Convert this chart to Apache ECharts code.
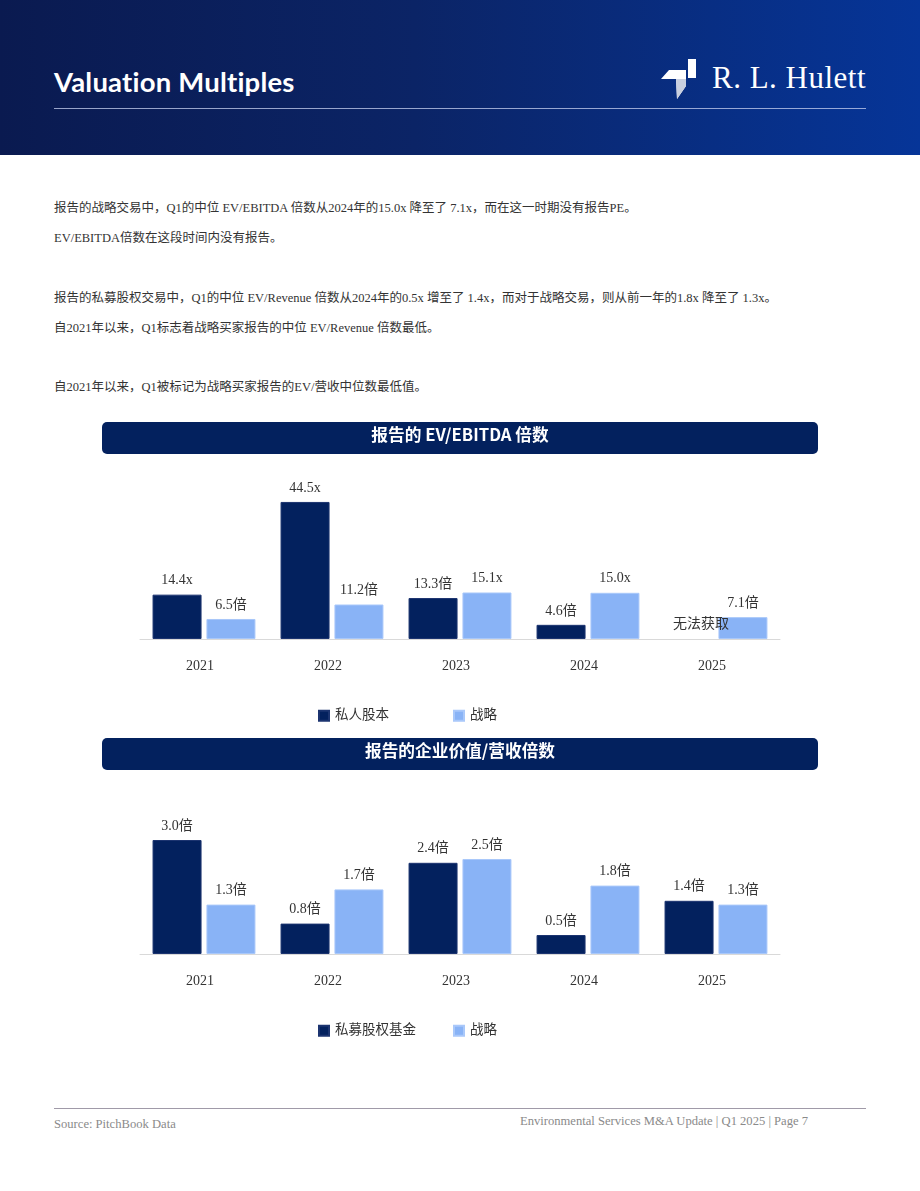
<!DOCTYPE html>
<html><head><meta charset="utf-8">
<script src="https://cdn.jsdelivr.net/npm/echarts@6/dist/echarts.min.js"></script>
<style>
html,body{margin:0;padding:0;background:#fff;width:920px;height:1191px;overflow:hidden;position:relative;}
.abs{position:absolute;}
#header{left:0;top:0;width:920px;height:155px;background:linear-gradient(90deg,#0a1a50 0%,#0b2466 45%,#063598 100%);}
#htitle{left:54px;top:65px;color:#fff;font:bold 27.5px Lato,"Open Sans",sans-serif;letter-spacing:0.2px;}
#hline{left:54px;top:108px;width:812px;height:1px;background:rgba(200,210,240,0.75);}
#logo{left:712px;top:60px;color:#fff;font:31px "Liberation Serif","DejaVu Serif",serif;letter-spacing:0.5px;}
.p{left:54px;font:12.5px "Liberation Serif","Noto Sans CJK SC",serif;color:#333;white-space:nowrap;}
.tbar{left:102px;width:716px;height:32px;background:#03215e;border-radius:5px;color:#fff;text-align:center;line-height:32px;font:bold 16.7px "Noto Sans CJK SC","Noto Sans",sans-serif;}
#fline{left:54px;top:1108px;width:812px;height:1px;background:#a09aa8;}
.f{font:12.6px "Liberation Serif","DejaVu Serif",serif;color:#8a8a8a;white-space:nowrap;}
#chart{left:0;top:410px;width:920px;height:650px;}
</style></head>
<body>
<div id="header" class="abs"></div>
<div id="htitle" class="abs">Valuation Multiples</div>
<div id="hline" class="abs"></div>
<svg class="abs" style="left:655px;top:56px" width="46" height="46" viewBox="655 56 46 46">
  <polygon points="688,59 696,59 696,78 688,78" fill="#fff"/>
  <polygon points="661,79 669,70 686,70 686,86 677,99 676,79" fill="#fff"/>
  <polygon points="676,79 686,79 686,86 677,99" fill="#c9cfdf"/>
</svg>
<div id="logo" class="abs">R. L. Hulett</div>

<div class="abs p" style="top:197px">报告的战略交易中，Q1的中位 EV/EBITDA 倍数从2024年的15.0x 降至了 7.1x，而在这一时期没有报告PE。</div>
<div class="abs p" style="top:227px">EV/EBITDA倍数在这段时间内没有报告。</div>
<div class="abs p" style="top:287px">报告的私募股权交易中，Q1的中位 EV/Revenue 倍数从2024年的0.5x 增至了 1.4x，而对于战略交易，则从前一年的1.8x 降至了 1.3x。</div>
<div class="abs p" style="top:317px">自2021年以来，Q1标志着战略买家报告的中位 EV/Revenue 倍数最低。</div>
<div class="abs p" style="top:376px">自2021年以来，Q1被标记为战略买家报告的EV/营收中位数最低值。</div>

<div id="chart" class="abs"></div>
<div class="abs tbar" style="top:422px">报告的 EV/EBITDA 倍数</div>
<div class="abs tbar" style="top:738px">报告的企业价值/营收倍数</div>

<div id="fline" class="abs"></div>
<div class="abs f" style="left:54px;top:1117px">Source: PitchBook Data</div>
<div class="abs f" style="left:520px;top:1114px">Environmental Services M&amp;A Update | Q1 2025 | Page 7</div>

<script>
const years = ['2021','2022','2023','2024','2025'];
// EV/EBITDA
const ebitdaPE = [14.4, 44.5, 13.3, 4.6, null];
const ebitdaStrategic = [6.5, 11.2, 15.1, 15.0, 7.1];
const ebitdaPESuffix = ['x','x','倍','倍','倍'];
const ebitdaStrategicSuffix = ['倍','倍','x','x','倍'];
const ebitdaNA = '无法获取';
const ebitdaLegend = ['私人股本','战略'];
// EV/Revenue
const revPE = [3.0, 0.8, 2.4, 0.5, 1.4];
const revStrategic = [1.3, 1.7, 2.5, 1.8, 1.3];
const revSuffix = ['倍','倍','倍','倍','倍'];
const revLegend = ['私募股权基金','战略'];

const DARK = '#03215e', LIGHT = '#89b3f6';
const FONT = '"Liberation Serif","Noto Sans CJK SC",serif';

function toData(arr){
  return arr.map(v => v === null
    ? {value:0, na:true, itemStyle:{opacity:0}, label:{offset:[12,0], opacity:1}}
    : v);
}
function fmt(suffix){
  return p => (p.data && p.data.na) ? ebitdaNA : Number(p.value).toFixed(1) + suffix[p.dataIndex];
}
function bar(name, arr, color, x, suffix, border){
  return {
    name, type:'bar', xAxisIndex:x, yAxisIndex:x, data: toData(arr), barWidth:49, barGap:'10%',
    itemStyle:{color, borderColor:border, borderWidth:1},
    label:{show:true, position:'top', distance:7, color:'#333', fontSize:14, fontFamily:FONT, formatter: fmt(suffix)},
    emphasis:{disabled:true}, animation:false
  };
}
const xa = i => ({type:'category', gridIndex:i, data:years,
  axisLine:{lineStyle:{color:'#d9d9d9', width:1}}, axisTick:{show:false},
  axisLabel:{color:'#333', fontSize:14, fontFamily:FONT, margin:20, padding:[0,8,0,0]}});
const lg = (name, left, top) => ({data:[name], left, top, icon:'rect', itemWidth:10, itemHeight:10, itemGap:6,
  textStyle:{color:'#333', fontSize:13.5, fontFamily:FONT, padding:[0,0,0,1]}});
const chart = echarts.init(document.getElementById('chart'), null, {renderer:'canvas'});
chart.setOption({
  animation:false,
  grid:[{left:140, width:640, top:75, height:154},{left:140, width:640, top:411, height:133}],
  xAxis:[xa(0), xa(1)],
  yAxis:[{type:'value', gridIndex:0, min:0, max:50, show:false, splitLine:{show:false}},
         {type:'value', gridIndex:1, min:0, max:3.5, show:false, splitLine:{show:false}}],
  legend:[
    lg(ebitdaLegend[0], 313, 294), lg(ebitdaLegend[1], 448, 294),
    lg(revLegend[0], 313, 609), lg(revLegend[1], 448, 609)
  ],
  series:[
    bar(ebitdaLegend[0], ebitdaPE, DARK, 0, ebitdaPESuffix, '#1c3470'),
    bar(ebitdaLegend[1], ebitdaStrategic, LIGHT, 0, ebitdaStrategicSuffix, '#a9c8fa'),
    bar(revLegend[0], revPE, DARK, 1, revSuffix, '#1c3470'),
    bar(revLegend[1] , revStrategic, LIGHT, 1, revSuffix, '#a9c8fa')
  ]
});
</script>
</body></html>
